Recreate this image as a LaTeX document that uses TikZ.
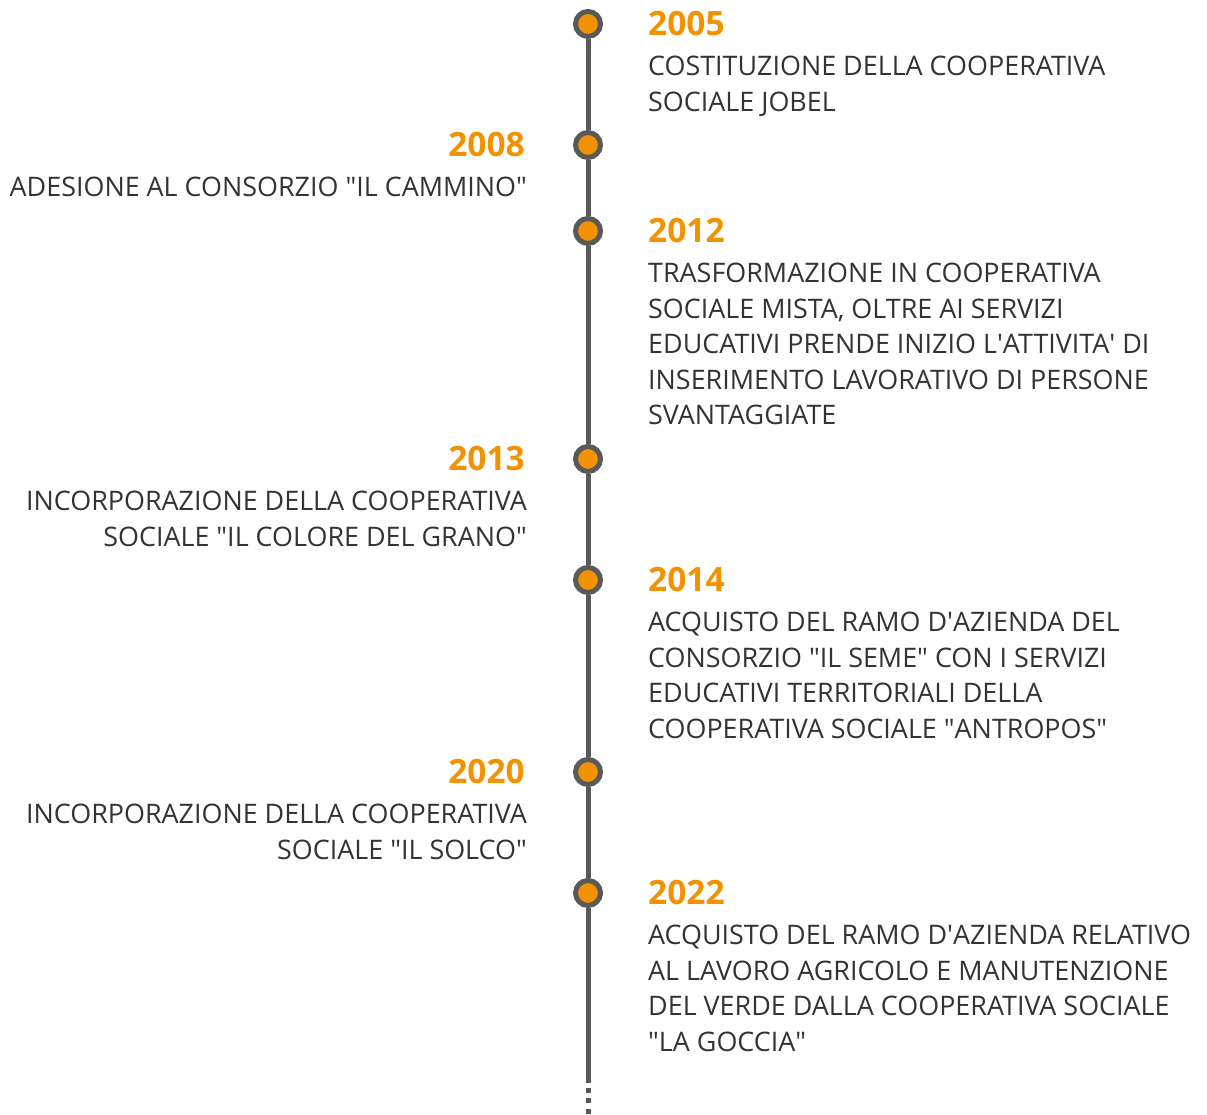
\documentclass[tikz,border=0pt]{standalone}
\usepackage{fontspec}
\setmainfont{Open Sans}
\definecolor{tlgray}{HTML}{595959}
\definecolor{tlorange}{HTML}{F39200}
\definecolor{tltext}{HTML}{333333}
\newcommand{\dq}{\textquotedbl}
\newcommand{\sq}{\textquotesingle}
\begin{document}
\begin{tikzpicture}[x=1pt,y=1pt,
  dot/.style={circle,draw=tlgray,line width=5pt,fill=tlorange,inner sep=0pt,minimum size=25pt},
  tline/.style={draw=tlgray,line width=5pt},
  yearR/.style={anchor=west,inner sep=0pt,text=tlorange,font=\fontsize{33.5}{38}\selectfont\bfseries},
  yearL/.style={anchor=east,inner sep=0pt,text=tlorange,font=\fontsize{33.5}{38}\selectfont\bfseries},
  descR/.style={anchor=north west,inner sep=0pt,align=left,text=tltext,font=\fontsize{26.9}{35.5}\selectfont},
  descL/.style={anchor=north east,inner sep=0pt,align=right,text=tltext,font=\fontsize{26.9}{35.5}\selectfont}]
\useasboundingbox (0,0) rectangle (1207,1115);
% dots
\node[dot] (c1) at (588,1091) {};
\node[dot] (c2) at (588,970) {};
\node[dot] (c3) at (588,884) {};
\node[dot] (c4) at (588,656) {};
\node[dot] (c5) at (588,535) {};
\node[dot] (c6) at (588,343) {};
\node[dot] (c7) at (588,222) {};
\coordinate (lend) at (588,32);
\coordinate (lbot) at (588,0);
% line
\draw[tline] (c1) -- (c2);
\draw[tline] (c2) -- (c3);
\draw[tline] (c3) -- (c4);
\draw[tline] (c4) -- (c5);
\draw[tline] (c5) -- (c6);
\draw[tline] (c6) -- (c7);
\draw[tline] (c7) -- (lend);
\draw[tline,dash pattern=on 5pt off 5.5pt] ([yshift=-5pt]lend) -- (lbot);
% events
\node[yearR] (y1) at (648,1091) {2005};
\node[descR] (d1) at (648,1059) {COSTITUZIONE DELLA COOPERATIVA\\SOCIALE JOBEL};
\node[yearL] (y2) at (525,970) {2008};
\node[descL] (d2) at (527,938) {ADESIONE AL CONSORZIO \dq IL CAMMINO\dq};
\node[yearR] (y3) at (648,884) {2012};
\node[descR] (d3) at (648,852) {TRASFORMAZIONE IN COOPERATIVA\\SOCIALE MISTA, OLTRE AI SERVIZI\\EDUCATIVI PRENDE INIZIO L\sq ATTIVITA\sq{} DI\\INSERIMENTO LAVORATIVO DI PERSONE\\SVANTAGGIATE};
\node[yearL] (y4) at (525,656) {2013};
\node[descL] (d4) at (527,624) {INCORPORAZIONE DELLA COOPERATIVA\\SOCIALE \dq IL COLORE DEL GRANO\dq};
\node[yearR] (y5) at (648,535) {2014};
\node[descR] (d5) at (648,503) {ACQUISTO DEL RAMO D\sq AZIENDA DEL\\CONSORZIO \dq IL SEME\dq{} CON I SERVIZI\\EDUCATIVI TERRITORIALI DELLA\\COOPERATIVA SOCIALE \dq ANTROPOS\dq};
\node[yearL] (y6) at (525,343) {2020};
\node[descL] (d6) at (527,311) {INCORPORAZIONE DELLA COOPERATIVA\\SOCIALE \dq IL SOLCO\dq};
\node[yearR] (y7) at (648,222) {2022};
\node[descR] (d7) at (648,190) {ACQUISTO DEL RAMO D\sq AZIENDA RELATIVO\\AL LAVORO AGRICOLO E MANUTENZIONE\\DEL VERDE DALLA COOPERATIVA SOCIALE\\\dq LA GOCCIA\dq};
\end{tikzpicture}
\end{document}
